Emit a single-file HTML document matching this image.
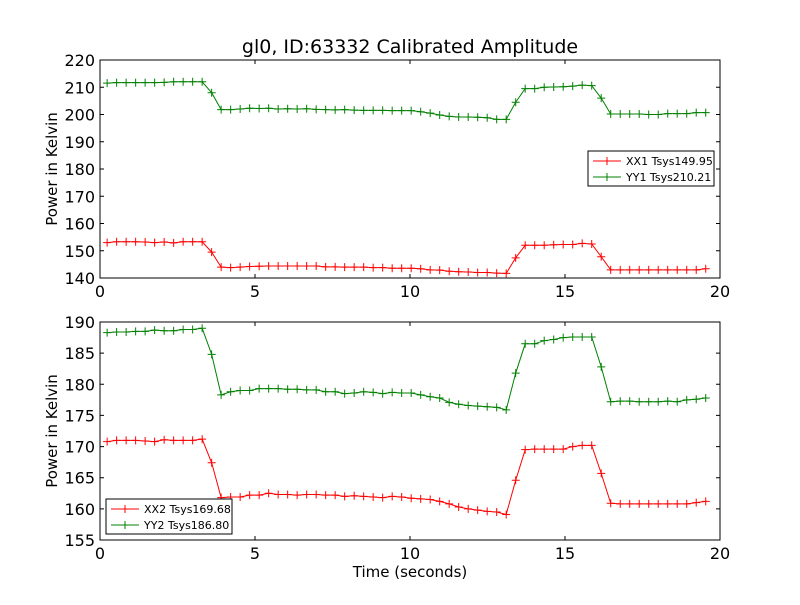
<!DOCTYPE html>
<html><head><meta charset="utf-8"><style>
body{margin:0;background:#fff}
svg text{font-family:"DejaVu Sans","Liberation Sans",sans-serif;}
</style></head><body>
<svg id="c" width="800" height="600" xmlns="http://www.w3.org/2000/svg"></svg>
<script>
const t0 = 0.23, dt = 0.3065;
const xx1 = [153,153.3,153.3,153.3,153.2,153,153.2,152.9,153.3,153.3,153.3,149.5,
144,143.8,144,144.2,144.3,144.4,144.4,144.4,144.4,144.4,144.4,144.1,144.1,144,144,144,143.8,143.8,143.6,143.6,143.6,143.4,143,142.9,142.5,142.3,142.2,142,142,141.8,141.7,
147.4,152,152,152,152.2,152.3,152.3,152.7,152.5,147.8,
143,143,143,143,143,143,143,143,143,143,143.4];
const yy1 = [211.5,211.7,211.7,211.7,211.7,211.7,211.8,212,212,212,212,208,
201.8,201.8,202,202.3,202.2,202.3,202,202.1,202,202.1,201.9,201.8,201.7,201.8,201.6,201.5,201.5,201.5,201.4,201.4,201.4,201,200.5,199.8,199.3,199.1,199.1,199,198.8,198.2,198.2,
204.5,209.5,209.5,210,210.1,210.2,210.4,210.8,210.6,206,
200.2,200.2,200.2,200.2,200,200,200.3,200.3,200.3,200.7,200.7];
const xx2 = [170.8,171,171,171,170.9,170.8,171.1,171,171,171,171.2,167.4,
161.8,161.9,161.9,162.2,162.2,162.5,162.3,162.3,162.2,162.3,162.3,162.2,162.2,162,162.1,162,161.9,161.8,162,161.9,161.7,161.6,161.5,161.2,160.8,160.3,160,159.8,159.6,159.5,159.1,
164.6,169.5,169.6,169.6,169.6,169.6,170,170.2,170.2,165.7,
160.9,160.8,160.8,160.8,160.8,160.8,160.8,160.8,160.8,161,161.2];
const yy2 = [188.3,188.4,188.4,188.5,188.5,188.7,188.6,188.6,188.8,188.8,189,184.8,
178.3,178.8,179,179,179.3,179.3,179.3,179.2,179.2,179.1,179.1,178.8,178.8,178.5,178.6,178.8,178.7,178.5,178.7,178.6,178.6,178.3,178,177.8,177.1,176.8,176.6,176.5,176.4,176.3,175.9,
181.8,186.5,186.5,187,187.2,187.5,187.6,187.6,187.6,182.8,
177.2,177.3,177.3,177.2,177.2,177.2,177.3,177.2,177.5,177.6,177.8];
const xTicks = [0,5,10,15,20];
const yTicks1 = [140,150,160,170,180,190,200,210,220];
const yTicks2 = [155,160,165,170,175,180,185,190];

const svg = document.getElementById('c');
const NS = 'http://www.w3.org/2000/svg';
function mk(tag, attrs, parent){const e=document.createElementNS(NS,tag);for(const k in attrs)e.setAttribute(k,attrs[k]);(parent||svg).appendChild(e);return e;}
function txt(s,attrs,parent){const e=mk('text',attrs,parent);e.textContent=s;return e;}

function panel(name, top, bottom, ymin, ymax, yTicks, series, legend){
  const L=100,R=720;
  const g=mk('g',{});
  
  
  const xs=v=>L+(v-0)/20*(R-L);
  const ys=v=>bottom-(v-ymin)/(ymax-ymin)*(bottom-top);
  series.forEach(s=>{
    const sg=mk('g',{},g);
    
    
    const pts=s.data.map((v,i)=>[xs(t0+i*dt),ys(v)]);
    mk('polyline',{points:pts.map(p=>p.join(',')).join(' '),fill:'none',stroke:s.color,'stroke-width':1},sg);
    pts.forEach(p=>{
      const m=mk('path',{d:`M${p[0]-4},${p[1]}H${p[0]+4}M${p[0]},${p[1]-4}V${p[1]+4}`,stroke:s.color,'stroke-width':1},sg);
      
      
    });
  });
  const frame=mk('rect',{x:L,y:top,width:R-L,height:bottom-top,fill:'none',stroke:'#000','stroke-width':1},g);
  
  
  xTicks.forEach(v=>{
    const x=xs(v);
    mk('path',{d:`M${x},${bottom}v-4M${x},${top}v4`,stroke:'#000'},g);
    const t=txt(String(v),{x:x,y:bottom+19,'text-anchor':'middle','font-size':16},g);
    
    
  });
  yTicks.forEach(v=>{
    const y=ys(v);
    mk('path',{d:`M${L},${y}h4M${R},${y}h-4`,stroke:'#000'},g);
    const t=txt(String(v),{x:L-5,y:y+6,'text-anchor':'end','font-size':16},g);
    
    
  });
  const yl=txt('Power in Kelvin',{x:0,y:0,'text-anchor':'middle','font-size':15,transform:`translate(57,${(top+bottom)/2}) rotate(-90)`},g);
  
  
  const lg=mk('g',{},g);
  
  
  mk('rect',{x:legend.x,y:legend.y,width:126,height:35,fill:'#fff',stroke:'#000'},lg);
  series.forEach((s,i)=>{
    const y=legend.y+10+i*16;
    const e=mk('g',{},lg);
    
    
    mk('path',{d:`M${legend.x+5},${y}h28M${legend.x+19},${y-4}v8`,stroke:s.color},e);
    txt(s.label,{x:legend.x+38,y:y+4,'font-size':11},e);
  });
}
const title=txt('gl0, ID:63332 Calibrated Amplitude',{x:410,y:53,'text-anchor':'middle','font-size':19});


panel('top-panel',60,278,140,220,yTicks1,[
  {name:'series-xx1',data:xx1,color:'#ff0000',label:'XX1 Tsys149.95'},
  {name:'series-yy1',data:yy1,color:'#008000',label:'YY1 Tsys210.21'}],{x:588,y:151});
panel('bottom-panel',322,540,155,190,yTicks2,[
  {name:'series-xx2',data:xx2,color:'#ff0000',label:'XX2 Tsys169.68'},
  {name:'series-yy2',data:yy2,color:'#008000',label:'YY2 Tsys186.80'}],{x:106,y:499});
const xl=txt('Time (seconds)',{x:410,y:577,'text-anchor':'middle','font-size':15});


</script>
</body></html>
